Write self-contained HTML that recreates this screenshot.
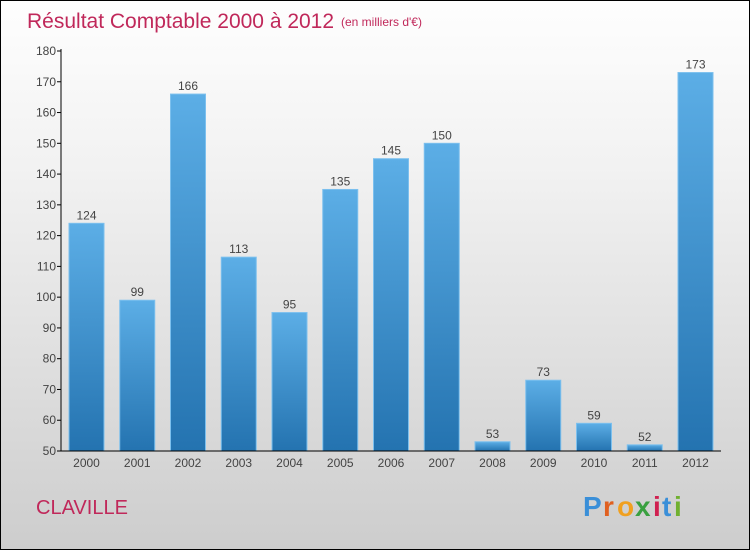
<!DOCTYPE html>
<html><head><meta charset="utf-8"><style>
body{margin:0}
#c{position:relative;width:748px;height:548px;border:1px solid #000;background:linear-gradient(#fefefe,#f2f2f2 30%,#cdcdcd);font-family:"Liberation Sans",sans-serif;overflow:hidden}
</style></head><body>
<div id="c">
<svg width="748" height="548" style="position:absolute;left:0;top:0">
<defs><linearGradient id="bg" x1="0" y1="0" x2="0" y2="1"><stop offset="0" stop-color="#5caee6"/><stop offset="1" stop-color="#2473b0"/></linearGradient></defs>
<text x="26" y="27" font-size="21" fill="#c0285a">Résultat Comptable 2000 à 2012</text>
<text x="340" y="25" font-size="12" fill="#c0285a">(en milliers d'€)</text>
<g id="plot"></g>
<text x="35" y="513" font-size="20" fill="#c0285a">CLAVILLE</text>
<g font-size="28" font-weight="bold">
<text x="582" y="515" fill="#3a8fd8">P</text><text x="602" y="515" fill="#e06020">r</text><text x="616" y="515" fill="#f0a020">o</text><text x="634" y="515" fill="#3aa040">x</text><text x="652" y="515" fill="#d02050">i</text><text x="661" y="515" fill="#3a8fd8">t</text><text x="673" y="515" fill="#70b030">i</text>
</g>
</svg>
</div>
<script>
const categories=["2000","2001","2002","2003","2004","2005","2006","2007","2008","2009","2010","2011","2012"];
const values=[124,99,166,113,95,135,145,150,53,73,59,52,173];
const yTicks=[50,60,70,80,90,100,110,120,130,140,150,160,170,180];
const NS="http://www.w3.org/2000/svg";
const g=document.getElementById('plot');
const y=v=>450-(v-50)*400/130;
const x=i=>85.5+i*50.75;
function mk(t,a){const e=document.createElementNS(NS,t);for(const k in a)e.setAttribute(k,a[k]);g.appendChild(e);return e;}
yTicks.forEach(v=>{
 const l=mk('line',{x1:56,x2:60,y1:y(v),y2:y(v),stroke:'#000'});
 
 
 const t=mk('text',{x:55,y:y(v)+4,'text-anchor':'end','font-size':12,fill:'#444'});
 t.textContent=v;
 
 
});
values.forEach((v,i)=>{
 const r=mk('rect',{x:x(i)-17.5,y:y(v),width:35,height:450-y(v),fill:'url(#bg)',stroke:'#7cc0ee','stroke-width':1});
 
 
 const t=mk('text',{x:x(i),y:y(v)-4,'text-anchor':'middle','font-size':12,fill:'#444'});
 t.textContent=v;
 
 
 const c=mk('text',{x:x(i),y:466,'text-anchor':'middle','font-size':12,fill:'#444'});
 c.textContent=categories[i];
 
 
});
const ya=mk('line',{x1:60,x2:60,y1:48,y2:450,stroke:'#000'});


const xa=mk('line',{x1:60,x2:720,y1:450,y2:450,stroke:'#000'});


</script>
</body></html>
